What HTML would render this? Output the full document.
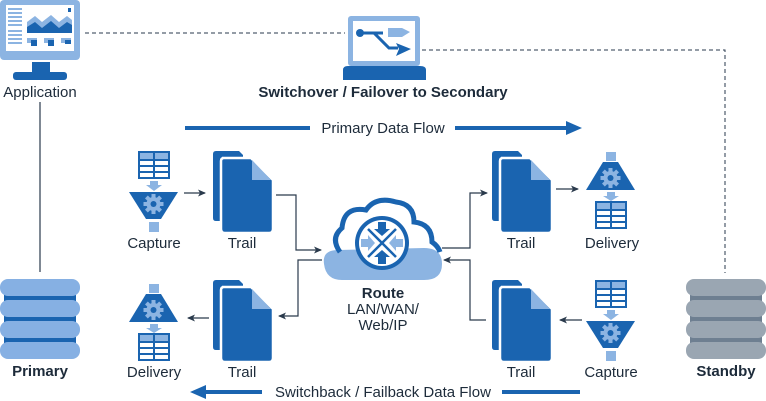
<!DOCTYPE html>
<html><head><meta charset="utf-8"><style>
html,body{margin:0;padding:0;background:#fff;}
svg{display:block;}
text{font-family:"Liberation Sans",Arial,sans-serif;fill:#1d2b3a;}
</style></head><body>
<svg width="766" height="401" viewBox="0 0 766 401" xmlns="http://www.w3.org/2000/svg">
<defs>
  <marker id="ah" markerWidth="8" markerHeight="8" refX="7" refY="4" orient="auto" markerUnits="userSpaceOnUse">
    <path d="M0,0.5 L8,4 L0,7.5 L2,4 Z" fill="#2a3a4c"/>
  </marker>
  <g id="trail">
    <path d="M3,0 H26 L30,4 V70 H3 Q0,70 0,67 V3 Q0,0 3,0 Z" fill="#1a64b0"/>
    <path d="M9,7 H38 L60,29 V78 Q60,82 56,82 H12 Q8,82 8,78 V10 Q8,7 11,7 Z" fill="#1a64b0" stroke="#fff" stroke-width="2.5"/>
    <path d="M39,9 L58,29 H39 Z" fill="#8cb4e2"/>
  </g>
  <g id="table">
    <rect x="0" y="0" width="32" height="28" fill="#1a64b0"/>
    <rect x="2" y="2" width="13" height="6" fill="#8cb4e2"/>
    <rect x="17" y="2" width="13" height="6" fill="#8cb4e2"/>
    <rect x="2" y="10" width="13" height="4" fill="#fff"/><rect x="17" y="10" width="13" height="4" fill="#fff"/>
    <rect x="2" y="16" width="13" height="4" fill="#fff"/><rect x="17" y="16" width="13" height="4" fill="#fff"/>
    <rect x="2" y="22" width="13" height="4" fill="#fff"/><rect x="17" y="22" width="13" height="4" fill="#fff"/>
  </g>
  <g id="gear">
    <circle cx="0" cy="0" r="7" fill="#8cb4e2"/>
    <g fill="#8cb4e2">
      <rect x="-2" y="-10" width="4" height="20"/>
      <rect x="-2" y="-10" width="4" height="20" transform="rotate(45)"/>
      <rect x="-2" y="-10" width="4" height="20" transform="rotate(90)"/>
      <rect x="-2" y="-10" width="4" height="20" transform="rotate(135)"/>
    </g>
    <circle cx="0" cy="0" r="3" fill="#1a64b0"/>
  </g>
  <g id="capture">
    <use href="#table" x="9" y="0"/>
    <path d="M21,30 H29 V34 H33 L25,40 L17,34 H21 Z" fill="#8cb4e2"/>
    <path d="M0,41 H49 L32,68 H17 Z" fill="#1a64b0"/>
    <use href="#gear" x="24.5" y="53"/>
    <rect x="20" y="71" width="10" height="10" fill="#8cb4e2"/>
  </g>
  <g id="delivery">
    <rect x="20" y="0" width="10" height="9" fill="#8cb4e2"/>
    <path d="M17,10 H32 L49,38 H0 Z" fill="#1a64b0"/>
    <use href="#gear" x="24.5" y="26"/>
    <path d="M21,40 H29 V44 H33 L25,49 L17,44 H21 Z" fill="#8cb4e2"/>
    <use href="#table" x="9" y="49"/>
  </g>
  <g id="db">
    <rect x="0" y="0" width="80" height="17" rx="8"/>
    <rect x="0" y="21" width="80" height="17" rx="8"/>
    <rect x="0" y="42" width="80" height="17" rx="8"/>
    <rect x="0" y="63" width="80" height="17" rx="8"/>
  </g>
</defs>

<path d="M85,33 H345" stroke="#2a3a4c" stroke-width="1" stroke-dasharray="4,3" fill="none"/>
<path d="M422,50 H725 V273" stroke="#2a3a4c" stroke-width="1" stroke-dasharray="4,3" fill="none"/>
<path d="M40,102 V272" stroke="#2a3a4c" stroke-width="1.2" fill="none"/>

<!-- Application monitor -->
<rect x="0" y="0" width="80" height="60" rx="4" fill="#8cb4e2"/>
<rect x="6" y="5" width="68" height="46" fill="#fff"/>
<g fill="#8cb4e2">
  <rect x="8" y="8" width="14" height="2"/><rect x="8" y="12" width="14" height="2"/><rect x="8" y="16" width="14" height="2"/><rect x="8" y="20" width="14" height="2"/><rect x="8" y="24" width="14" height="2"/>
  <rect x="8" y="30" width="14" height="2"/><rect x="8" y="34" width="14" height="2"/><rect x="8" y="38" width="14" height="2"/><rect x="8" y="42" width="14" height="2"/>
  <path d="M27,22 L35,16 L42,22 L51,15 L59,22 L67,16 L72,20 V33 H27 Z"/>
  <rect x="27" y="38" width="10" height="5"/><rect x="44" y="38" width="10" height="5"/><rect x="61" y="38" width="10" height="5"/>
</g>
<path d="M27,27 L35,22 L42,28 L51,21 L59,28 L67,22 L72,25 V33 H27 Z" fill="#1a64b0"/>
<rect x="31" y="40" width="6" height="6" fill="#1a64b0"/><rect x="48" y="40" width="6" height="6" fill="#1a64b0"/><rect x="65" y="40" width="6" height="4" fill="#1a64b0"/>
<rect x="68" y="8" width="3" height="4" fill="#1a64b0"/>
<rect x="32" y="62" width="18" height="10" fill="#1a64b0"/>
<rect x="13" y="72" width="54" height="8" rx="3" fill="#1a64b0"/>
<text x="40" y="97" font-size="15" text-anchor="middle">Application</text>

<!-- Switchover laptop -->
<rect x="348" y="16" width="72" height="50" rx="3" fill="#8cb4e2"/>
<rect x="353" y="21" width="62" height="40" fill="#fff"/>
<path d="M388,28 H402 L410,32 L402,37 H388 Z" fill="#8cb4e2"/>
<circle cx="360" cy="33" r="4" fill="#1a64b0"/>
<path d="M360,33 H383 M374,33 L389,48 H398" stroke="#1a64b0" stroke-width="3" fill="none"/>
<path d="M396,43 L411,49 L396,56 L399,49 Z" fill="#1a64b0"/>
<path d="M343,70 Q343,66 348,66 H420 Q426,66 426,70 V80 H343 Z" fill="#1a64b0"/>
<text x="383" y="97" font-size="15" font-weight="bold" text-anchor="middle">Switchover / Failover to Secondary</text>

<path d="M185,128 H310 M455,128 H568" stroke="#1a64b0" stroke-width="4" fill="none"/>
<path d="M566,121 L582,128 L566,135 Z" fill="#1a64b0"/>
<text x="383" y="133" font-size="15" text-anchor="middle">Primary Data Flow</text>
<path d="M205,392 H262 M502,392 H580" stroke="#1a64b0" stroke-width="4" fill="none"/>
<path d="M206,385 L190,392 L206,399 Z" fill="#1a64b0"/>
<text x="383" y="397" font-size="15" text-anchor="middle">Switchback / Failback Data Flow</text>

<use href="#capture" x="129" y="151"/>
<text x="154" y="248" font-size="15" text-anchor="middle">Capture</text>
<use href="#trail" x="213" y="151"/>
<text x="242" y="248" font-size="15" text-anchor="middle">Trail</text>
<path d="M184,193 H205" stroke="#2a3a4c" stroke-width="1.2" marker-end="url(#ah)"/>

<use href="#delivery" x="129" y="284"/>
<text x="154" y="377" font-size="15" text-anchor="middle">Delivery</text>
<use href="#trail" x="213" y="280"/>
<text x="242" y="377" font-size="15" text-anchor="middle">Trail</text>
<path d="M209,318 H188" stroke="#2a3a4c" stroke-width="1.2" marker-end="url(#ah)"/>

<use href="#trail" x="492" y="151"/>
<text x="521" y="248" font-size="15" text-anchor="middle">Trail</text>
<use href="#delivery" x="586" y="152"/>
<text x="612" y="248" font-size="15" text-anchor="middle">Delivery</text>
<path d="M556,189 H578" stroke="#2a3a4c" stroke-width="1.2" marker-end="url(#ah)"/>

<use href="#trail" x="492" y="280"/>
<text x="521" y="377" font-size="15" text-anchor="middle">Trail</text>
<use href="#capture" x="586" y="280"/>
<text x="611" y="377" font-size="15" text-anchor="middle">Capture</text>
<path d="M582,320 H560" stroke="#2a3a4c" stroke-width="1.2" marker-end="url(#ah)"/>

<path d="M276,195 H296 V250 H321" stroke="#2a3a4c" stroke-width="1.2" fill="none" marker-end="url(#ah)"/>
<path d="M322,260 H298 V316 H279" stroke="#2a3a4c" stroke-width="1.2" fill="none" marker-end="url(#ah)"/>
<path d="M442,248 H470 V193 H487" stroke="#2a3a4c" stroke-width="1.2" fill="none" marker-end="url(#ah)"/>
<path d="M486,320 H470 V260 H444" stroke="#2a3a4c" stroke-width="1.2" fill="none" marker-end="url(#ah)"/>

<path d="M338,250 Q322,250 324,264 Q326,280 342,280 H424 Q442,280 442,264 Q442,248 424,248 Z" fill="#8cb4e2"/>
<path d="M340,252 Q330,238 342,228 Q344,206 366,210 Q376,196 396,202 Q414,204 414,222 Q432,224 432,242 Q438,246 440,252" fill="none" stroke="#1a64b0" stroke-width="5"/>
<circle cx="382" cy="243" r="27" fill="#1a64b0"/>
<circle cx="382" cy="243" r="23" fill="#fff"/>
<g stroke="#1a64b0" stroke-width="2.5"><path d="M368,229 L396,257 M396,229 L368,257"/></g>
<g fill="#1a64b0">
  <path d="M378,222 H386 V229 H390 L382,236 L374,229 H378 Z"/>
  <path d="M378,264 H386 V257 H390 L382,250 L374,257 H378 Z"/>
</g>
<g fill="#8cb4e2">
  <path d="M361,239 V247 H368 V251 L375,243 L368,235 V239 Z"/>
  <path d="M403,239 V247 H396 V251 L389,243 L396,235 V239 Z"/>
</g>
<text x="383" y="298" font-size="15" font-weight="bold" text-anchor="middle">Route</text>
<text x="383" y="314" font-size="15" text-anchor="middle">LAN/WAN/</text>
<text x="383" y="330" font-size="15" text-anchor="middle">Web/IP</text>

<rect x="4" y="285" width="72" height="68" fill="#1a64b0"/>
<use href="#db" x="0" y="279" fill="#86b0e3"/>
<text x="40" y="376" font-size="15" font-weight="bold" text-anchor="middle">Primary</text>

<rect x="690" y="285" width="72" height="68" fill="#6e7f91"/>
<use href="#db" x="686" y="279" fill="#9aa6b2"/>
<text x="726" y="376" font-size="15" font-weight="bold" text-anchor="middle">Standby</text>
</svg>
</body></html>
